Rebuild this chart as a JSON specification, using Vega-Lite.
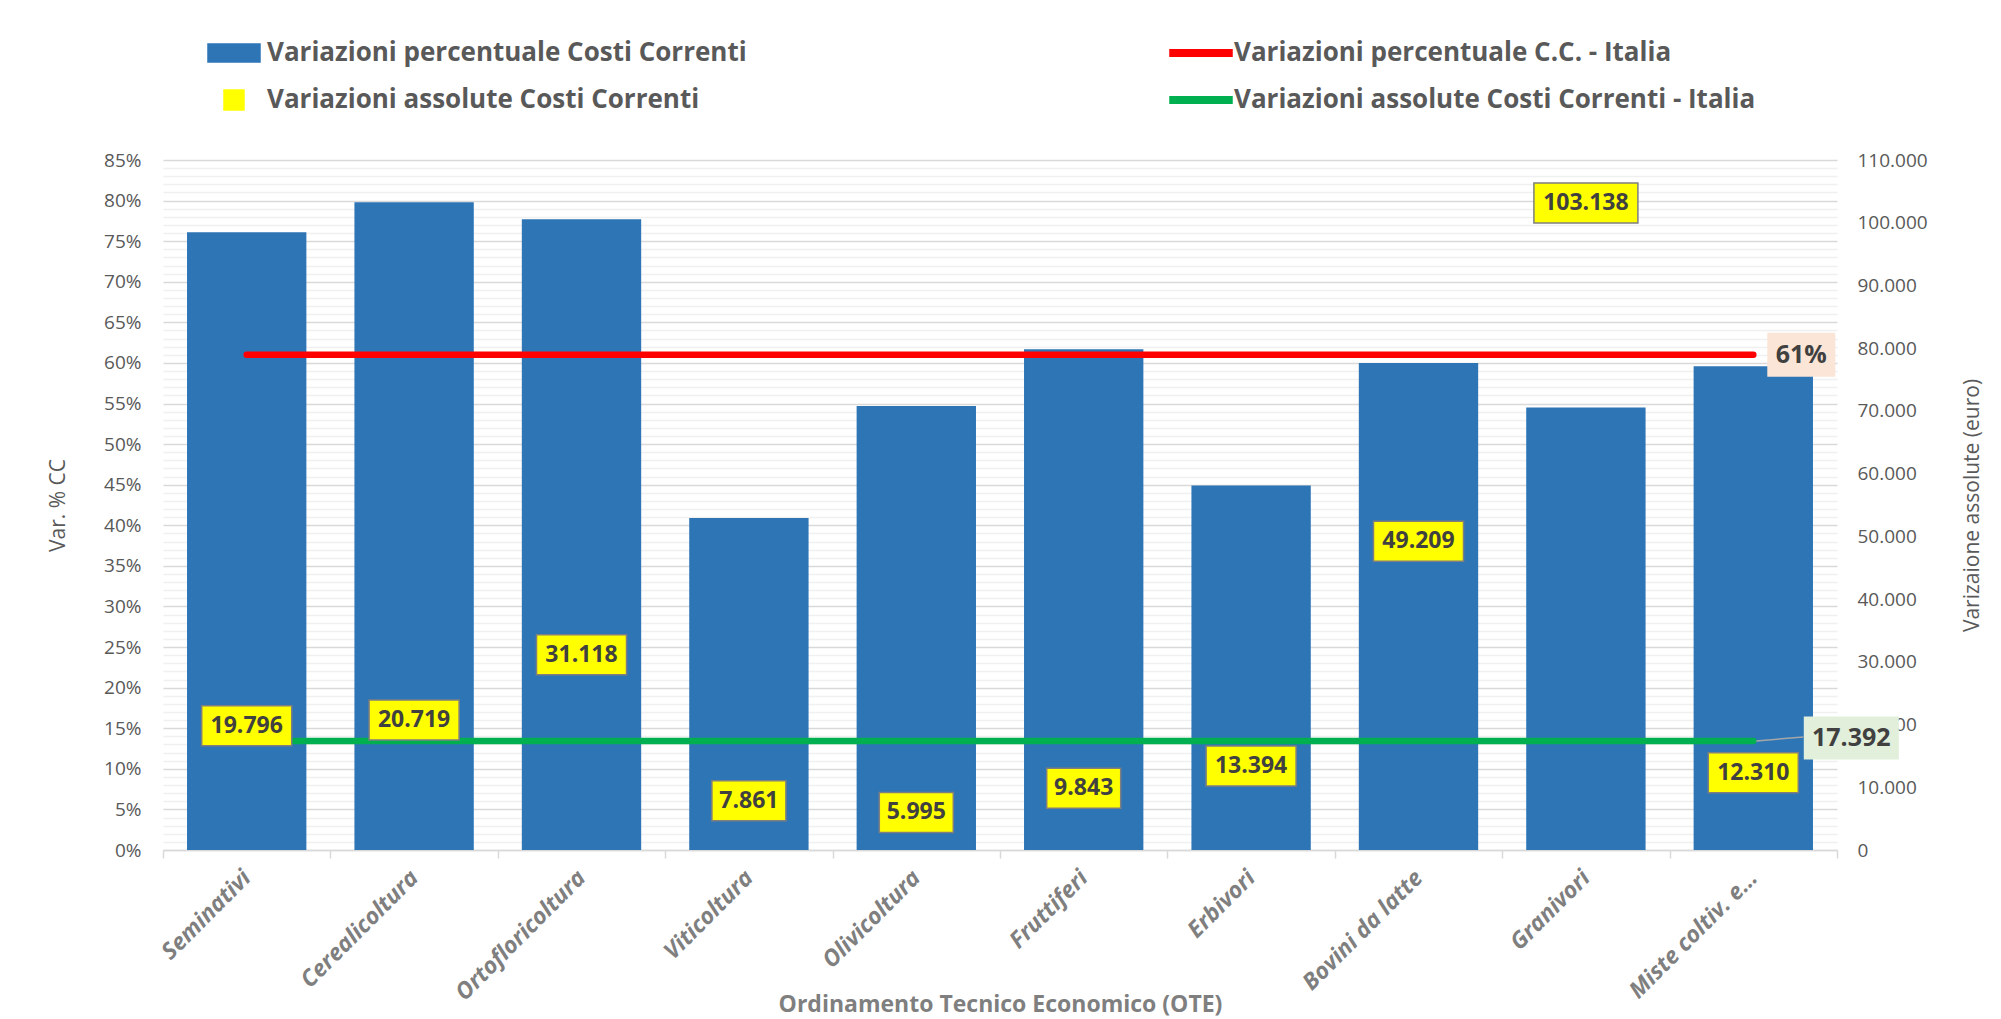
{
  "$schema": "https://vega.github.io/schema/vega-lite/v6.json",
  "width": 1674,
  "height": 690,
  "autosize": {"type": "none"},
  "padding": {"left": 163, "top": 160, "right": 164, "bottom": 169},
  "background": "white",
  "config": {
    "view": {"stroke": null},
    "font": "Open Sans",
    "locale": {"number": {"decimal": ",", "thousands": ".", "grouping": [3], "currency": ["", " €"]}}
  },
  "data": {
    "values": [
      {"cat": "Seminativi", "pct": 0.761, "abs": 19796, "ita_pct": 0.61, "ita_abs": 17392},
      {"cat": "Cerealicoltura", "pct": 0.798, "abs": 20719, "ita_pct": 0.61, "ita_abs": 17392},
      {"cat": "Ortofloricoltura", "pct": 0.777, "abs": 31118, "ita_pct": 0.61, "ita_abs": 17392},
      {"cat": "Viticoltura", "pct": 0.409, "abs": 7861, "ita_pct": 0.61, "ita_abs": 17392},
      {"cat": "Olivicoltura", "pct": 0.547, "abs": 5995, "ita_pct": 0.61, "ita_abs": 17392},
      {"cat": "Fruttiferi", "pct": 0.617, "abs": 9843, "ita_pct": 0.61, "ita_abs": 17392},
      {"cat": "Erbivori", "pct": 0.449, "abs": 13394, "ita_pct": 0.61, "ita_abs": 17392},
      {"cat": "Bovini da latte", "pct": 0.600, "abs": 49209, "ita_pct": 0.61, "ita_abs": 17392},
      {"cat": "Granivori", "pct": 0.545, "abs": 103138, "ita_pct": 0.61, "ita_abs": 17392},
      {"cat": "Miste coltiv. e…", "pct": 0.596, "abs": 12310, "ita_pct": 0.61, "ita_abs": 17392}
    ]
  },
  "encoding": {
    "x": {
      "field": "cat", "type": "nominal", "sort": null,
      "scale": {"paddingInner": 0, "paddingOuter": 0},
      "axis": {
        "title": "Ordinamento Tecnico Economico (OTE)",
        "tickBand": "extent", "ticks": true, "tickSize": 8, "tickColor": "#D9D9D9", "tickWidth": 1.5,
        "domainColor": "#D9D9D9", "domainWidth": 1.5,
        "labelAngle": -45, "labelAlign": "right", "labelBaseline": "middle",
        "labelFont": "Open Sans", "labelFontSize": 23, "labelFontWeight": "bold", "labelFontStyle": "italic",
        "labelColor": "#7F7F7F", "labelPadding": 16, "labelLimit": 400,
        "titleFont": "Open Sans", "titleFontSize": 23, "titleFontWeight": "bold", "titleColor": "#7F7F7F",
        "titleY": 154, "titleBaseline": "middle"
      }
    }
  },
  "layer": [
    {
      "resolve": {"axis": {"y": "independent"}},
      "layer": [
        {
          "mark": {"type": "bar", "width": {"band": 0.713}},
          "encoding": {
            "y": {
              "field": "pct", "type": "quantitative",
              "scale": {"domain": [0, 0.85], "nice": false, "zero": true},
              "axis": {
                "orient": "left",
                "values": [0,0.01,0.02,0.03,0.04,0.05,0.06,0.07,0.08,0.09,0.1,0.11,0.12,0.13,0.14,0.15,0.16,0.17,0.18,0.19,0.2,0.21,0.22,0.23,0.24,0.25,0.26,0.27,0.28,0.29,0.3,0.31,0.32,0.33,0.34,0.35,0.36,0.37,0.38,0.39,0.4,0.41,0.42,0.43,0.44,0.45,0.46,0.47,0.48,0.49,0.5,0.51,0.52,0.53,0.54,0.55,0.56,0.57,0.58,0.59,0.6,0.61,0.62,0.63,0.64,0.65,0.66,0.67,0.68,0.69,0.7,0.71,0.72,0.73,0.74,0.75,0.76,0.77,0.78,0.79,0.8,0.81,0.82,0.83,0.84,0.85],
                "labelExpr": "abs(datum.value*20 - round(datum.value*20)) < 0.001 ? format(datum.value, '.0%') : ''",
                "labelOverlap": false, "labelBound": false,
                "grid": true,
                "gridColor": {"condition": {"test": "abs(datum.value*20 - round(datum.value*20)) < 0.001", "value": "#D9D9D9"}, "value": "#F0F0F0"},
                "gridWidth": 1.5,
                "ticks": false, "domain": false,
                "labelFont": "Open Sans", "labelFontSize": 19, "labelColor": "#595959", "labelPadding": 22,
                "title": "Var. % CC", "titleFont": "Open Sans", "titleFontSize": 21, "titleFontWeight": "normal",
                "titleColor": "#595959", "titlePadding": 35
              }
            },
            "color": {
              "datum": "Variazioni percentuale Costi Correnti", "type": "nominal",
              "scale": {
                "domain": ["Variazioni percentuale Costi Correnti", "Variazioni assolute Costi Correnti", "Variazioni percentuale C.C. - Italia", "Variazioni assolute Costi Correnti - Italia"],
                "range": ["#2E75B6", "#FFFF00", "#FF0000", "#00B050"]
              },
              "legend": {
                "orient": "none", "legendX": 50, "legendY": -128, "columns": 2, "title": null, "padding": 0,
                "symbolSize": 1600, "labelOffset": 12, "symbolOpacity": 1,
                "labelFont": "Open Sans", "labelFontSize": 26, "labelFontWeight": "bold", "labelColor": "#595959",
                "labelLimit": 1000, "columnPadding": 420, "rowPadding": 13,
                "encode": {
                  "symbols": {
                    "update": {
                      "shape": {"signal": "datum.value === 'Variazioni percentuale Costi Correnti' ? 'M-1.3,-0.45H1.3V0.45H-1.3Z' : (datum.value === 'Variazioni assolute Costi Correnti' ? 'M-0.5,-0.5H0.5V0.5H-0.5Z' : 'M-1.55,-0.16H1.55V0.16H-1.55Z')"},
                      "fill": {"scale": "color", "field": "value"},
                      "stroke": {"signal": "datum.value === 'Variazioni assolute Costi Correnti' ? '#7F7F7F' : 'transparent'"},
                      "strokeWidth": {"value": 1.5},
                      "opacity": {"value": 1},
                      "fillOpacity": {"value": 1}
                    }
                  }
                }
              }
            }
          }
        },
        {
          "mark": {"type": "line", "strokeWidth": 6.5, "strokeCap": "round"},
          "encoding": {
            "y": {"field": "ita_pct", "type": "quantitative", "scale": {"domain": [0, 0.85], "nice": false}, "axis": null},
            "color": {"datum": "Variazioni percentuale C.C. - Italia", "type": "nominal"}
          }
        },
        {
          "transform": [{"filter": "datum.cat === 'Miste coltiv. e…'"}],
          "mark": {"type": "point", "filled": true, "color": "#FBE5D6", "opacity": 1, "size": 400, "shape": "M-3.4,-2.2H3.4V2.2H-3.4Z", "xOffset": 48, "strokeWidth": 0},
          "encoding": {
            "y": {"field": "ita_pct", "type": "quantitative", "scale": {"domain": [0, 0.85], "nice": false}, "axis": null}
          }
        },
        {
          "transform": [{"filter": "datum.cat === 'Miste coltiv. e…'"}],
          "mark": {"type": "text", "xOffset": 48, "font": "Open Sans", "fontSize": 25, "fontWeight": "bold", "color": "#404040", "baseline": "middle", "align": "center"},
          "encoding": {
            "y": {"field": "ita_pct", "type": "quantitative", "scale": {"domain": [0, 0.85], "nice": false}, "axis": null},
            "text": {"field": "ita_pct", "type": "quantitative", "format": ".0%"}
          }
        }
      ]
    },
    {
      "resolve": {"axis": {"y": "independent"}},
      "layer": [
        {
          "mark": {"type": "line", "strokeWidth": 6.5, "strokeCap": "round"},
          "encoding": {
            "y": {
              "field": "ita_abs", "type": "quantitative",
              "scale": {"domain": [0, 110000], "nice": false},
              "axis": {
                "orient": "right",
                "values": [0,10000,20000,30000,40000,50000,60000,70000,80000,90000,100000,110000],
                "format": ",d", "grid": false, "ticks": false, "domain": false, "labelOverlap": false,
                "labelFont": "Open Sans", "labelFontSize": 19, "labelColor": "#595959", "labelPadding": 20,
                "title": "Varizaione assolute (euro)", "titleAngle": 270, "titleFont": "Open Sans", "titleFontSize": 21,
                "titleFontWeight": "normal", "titleColor": "#595959", "titlePadding": 55
              }
            },
            "color": {"datum": "Variazioni assolute Costi Correnti - Italia", "type": "nominal"}
          }
        },
        {
          "mark": {"type": "point", "filled": true, "opacity": 1, "size": 400, "stroke": "#7F7F7F", "strokeWidth": 1.5},
          "encoding": {
            "y": {"field": "abs", "type": "quantitative", "scale": {"domain": [0, 110000], "nice": false}, "axis": null},
            "color": {"datum": "Variazioni assolute Costi Correnti", "type": "nominal"},
            "shape": {
              "condition": [
                {"test": "datum.abs >= 100000", "value": "M-5.2,-2H5.2V2H-5.2Z"},
                {"test": "datum.abs >= 10000", "value": "M-4.5,-2H4.5V2H-4.5Z"}
              ],
              "value": "M-3.7,-2H3.7V2H-3.7Z"
            }
          }
        },
        {
          "mark": {"type": "text", "font": "Open Sans", "fontSize": 23, "fontWeight": "bold", "color": "#404040", "baseline": "middle", "align": "center"},
          "encoding": {
            "y": {"field": "abs", "type": "quantitative", "scale": {"domain": [0, 110000], "nice": false}, "axis": null},
            "text": {"field": "abs", "type": "quantitative", "format": ",d"}
          }
        },
        {
          "transform": [{"filter": "datum.cat === 'Miste coltiv. e…'"}],
          "mark": {"type": "rule", "color": "#A6A6A6", "strokeWidth": 1.5, "xOffset": 3, "x2Offset": 50, "y2Offset": -4},
          "encoding": {
            "y": {"field": "ita_abs", "type": "quantitative", "scale": {"domain": [0, 110000], "nice": false}, "axis": null},
            "y2": {"field": "ita_abs"},
            "x2": {"field": "cat"}
          }
        },
        {
          "transform": [{"filter": "datum.cat === 'Miste coltiv. e…'"}],
          "mark": {"type": "point", "filled": true, "color": "#E2EFDA", "opacity": 1, "size": 400, "shape": "M-4.75,-2.15H4.75V2.15H-4.75Z", "xOffset": 98, "yOffset": -3, "strokeWidth": 0},
          "encoding": {
            "y": {"field": "ita_abs", "type": "quantitative", "scale": {"domain": [0, 110000], "nice": false}, "axis": null}
          }
        },
        {
          "transform": [{"filter": "datum.cat === 'Miste coltiv. e…'"}],
          "mark": {"type": "text", "xOffset": 98, "yOffset": -3, "font": "Open Sans", "fontSize": 25, "fontWeight": "bold", "color": "#404040", "baseline": "middle", "align": "center"},
          "encoding": {
            "y": {"field": "ita_abs", "type": "quantitative", "scale": {"domain": [0, 110000], "nice": false}, "axis": null},
            "text": {"field": "ita_abs", "type": "quantitative", "format": ",d"}
          }
        }
      ]
    }
  ],
  "resolve": {"scale": {"y": "independent"}}
}
